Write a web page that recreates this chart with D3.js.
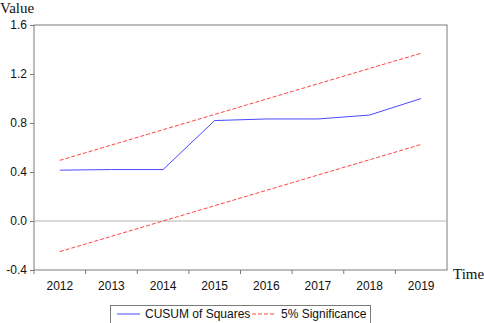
<!DOCTYPE html>
<html>
<head>
<meta charset="utf-8">
<script src="https://cdn.jsdelivr.net/npm/d3@7"></script>
<style>
  body { margin: 0; background: #fff; }
  svg { display: block; }
</style>
</head>
<body>
<svg id="chart" width="484" height="323"></svg>
<script>
const years = ["2012", "2013", "2014", "2015", "2016", "2017", "2018", "2019"];
const cusum = [0.415, 0.42, 0.42, 0.82, 0.833, 0.833, 0.865, 1.0];
const upper = [0.495, 0.62, 0.745, 0.87, 0.995, 1.12, 1.245, 1.37];
const lower = [-0.25, -0.125, 0.0, 0.125, 0.25, 0.375, 0.5, 0.625];
const yTicks = [-0.4, 0.0, 0.4, 0.8, 1.2, 1.6];

const svg = d3.select("#chart");
const m = { left: 34, right: 447, top: 25, bottom: 270 };

const x = d3.scaleBand().domain(years).range([m.left, m.right]);
const y = d3.scaleLinear().domain([-0.4, 1.6]).range([m.bottom, m.top]);
const cx = d => x(d) + x.bandwidth() / 2;

// frame
svg.append("rect")
    .attr("x", m.left).attr("y", m.top)
    .attr("width", m.right - m.left).attr("height", m.bottom - m.top)
    .attr("fill", "none").attr("stroke", "#7a7a7a").attr("stroke-width", 1);

// zero line
svg.append("line")
    .attr("x1", m.left).attr("x2", m.right)
    .attr("y1", y(0)).attr("y2", y(0))
    .attr("stroke", "#b4b4b4").attr("stroke-width", 1);

// y axis
const yAxis = svg.append("g")
    .attr("transform", "translate(" + m.left + ",0)")
    .call(d3.axisLeft(y).tickValues(yTicks).tickFormat(d => d.toFixed(1)).tickSize(4).tickPadding(3));
yAxis.select(".domain").remove();
yAxis.selectAll("line").attr("stroke", "#7a7a7a");
yAxis.selectAll("text").attr("font-family", "Arial, Liberation Sans").attr("font-size", 12).attr("fill", "#111");

// x axis: ticks on band boundaries
const xAxis = svg.append("g")
    .attr("transform", "translate(0," + m.bottom + ")");
xAxis.selectAll("line")
    .data(years.slice(0, -1))
    .enter().append("line")
    .attr("x1", d => x(d) + x.bandwidth()).attr("x2", d => x(d) + x.bandwidth())
    .attr("y1", 0).attr("y2", 4)
    .attr("stroke", "#7a7a7a");
xAxis.append("line").attr("x1", m.left).attr("x2", m.left).attr("y1", 0).attr("y2", 4).attr("stroke", "#7a7a7a");
xAxis.selectAll("text")
    .data(years)
    .enter().append("text")
    .attr("x", cx).attr("y", 20)
    .attr("text-anchor", "middle")
    .attr("font-family", "Arial, Liberation Sans").attr("font-size", 12).attr("fill", "#111")
    .text(d => d);

const line = d3.line().x((d, i) => cx(years[i])).y(d => y(d));

[upper, lower].forEach(s => {
    svg.append("path")
        .attr("d", line(s))
        .attr("fill", "none").attr("stroke", "#ff4444").attr("stroke-width", 1)
        .attr("stroke-dasharray", "4,2");
});

svg.append("path")
    .attr("d", line(cusum))
    .attr("fill", "none").attr("stroke", "#4a4aff").attr("stroke-width", 1);

// axis titles
svg.append("text").attr("x", 0).attr("y", 13)
    .attr("font-family", "Times New Roman, Liberation Serif").attr("font-size", 15).attr("fill", "#111")
    .text("Value");
svg.append("text").attr("x", 453).attr("y", 279)
    .attr("font-family", "Times New Roman, Liberation Serif").attr("font-size", 15).attr("fill", "#111")
    .text("Time");

// legend
const lg = svg.append("g");
lg.append("rect").attr("x", 110.5).attr("y", 305.5).attr("width", 260).attr("height", 20)
    .attr("fill", "#fff").attr("stroke", "#7a7a7a");
lg.append("line").attr("x1", 117).attr("x2", 140).attr("y1", 314).attr("y2", 314)
    .attr("stroke", "#4a4aff");
lg.append("text").attr("x", 145).attr("y", 318)
    .attr("font-family", "Arial, Liberation Sans").attr("font-size", 12).attr("fill", "#111")
    .text("CUSUM of Squares");
lg.append("line").attr("x1", 252).attr("x2", 276).attr("y1", 314).attr("y2", 314)
    .attr("stroke", "#ff4444").attr("stroke-dasharray", "4,2");
lg.append("text").attr("x", 281).attr("y", 318)
    .attr("font-family", "Arial, Liberation Sans").attr("font-size", 12).attr("fill", "#111")
    .text("5% Significance");
</script>
</body>
</html>
